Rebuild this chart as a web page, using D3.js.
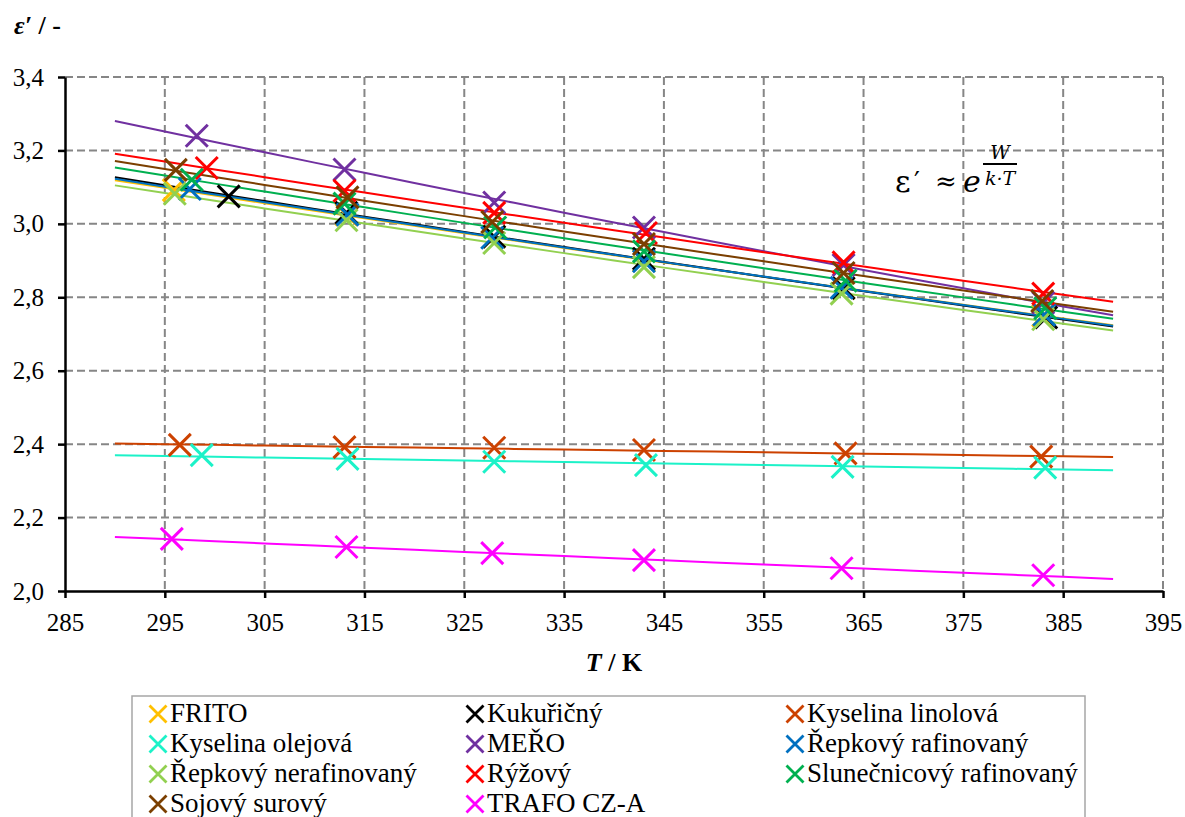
<!DOCTYPE html>
<html>
<head>
<meta charset="utf-8">
<script src="https://cdn.jsdelivr.net/npm/d3@7"></script>
<style>
  html, body { margin: 0; padding: 0; background: #fff; }
  svg { display: block; }
</style>
</head>
<body>
<svg id="chart" width="1185" height="817"></svg>
<script>
// Permittivity of oils vs temperature, with exponential trend lines per sample.
const seriesNames = [
  "FRITO", "Kukuřičný", "Kyselina linolová",
  "Kyselina olejová", "MEŘO", "Řepkový rafinovaný",
  "Řepkový nerafinovaný", "Rýžový", "Slunečnicový rafinovaný",
  "Sojový surový", "TRAFO CZ-A"
];
const seriesColors = [
  "#FFC000", "#000000", "#CC4100",
  "#1CF2C8", "#7030A0", "#0070C0",
  "#92D050", "#FF0000", "#00B050",
  "#7B3F00", "#FF00FF"
];
// Temperatures T / K for each sample
const temps = [
  [295.9, 313.2, 328.0, 343.0, 363.0, 383.0],
  [301.4, 313.2, 328.0, 343.0, 363.0, 383.3],
  [296.5, 313.0, 328.0, 343.0, 363.2, 382.8],
  [298.7, 313.3, 328.0, 343.2, 362.9, 383.2],
  [298.2, 313.0, 328.0, 343.0, 363.0, 383.0],
  [297.5, 313.3, 327.8, 343.0, 362.8, 383.1],
  [296.0, 313.2, 328.0, 343.0, 362.8, 383.0],
  [299.2, 313.0, 328.0, 343.2, 363.0, 383.0],
  [297.7, 313.0, 328.1, 343.0, 363.2, 383.2],
  [296.1, 313.3, 327.8, 343.0, 363.0, 382.9],
  [295.7, 313.2, 327.8, 343.0, 362.8, 383.0]
];
// Relative permittivity ε′ for each sample
const epsValues = [
  [3.092, 3.025, 2.965, 2.900, 2.825, 2.750],
  [3.075, 3.030, 2.965, 2.905, 2.825, 2.745],
  [2.398, 2.392, 2.390, 2.384, 2.375, 2.366],
  [2.370, 2.360, 2.352, 2.343, 2.338, 2.336],
  [3.240, 3.148, 3.058, 2.990, 2.888, 2.785],
  [3.095, 3.025, 2.962, 2.898, 2.826, 2.752],
  [3.082, 3.010, 2.948, 2.882, 2.810, 2.740],
  [3.152, 3.090, 3.030, 2.975, 2.895, 2.810],
  [3.120, 3.055, 2.990, 2.925, 2.845, 2.770],
  [3.147, 3.072, 3.005, 2.945, 2.866, 2.790],
  [2.142, 2.120, 2.103, 2.084, 2.062, 2.043]
];
const xTicks = [285, 295, 305, 315, 325, 335, 345, 355, 365, 375, 385, 395];
const yTicks = [2.0, 2.2, 2.4, 2.6, 2.8, 3.0, 3.2, 3.4];
const trendRange = [290, 390];

const svg = d3.select("#chart");
const plotL = 65, plotR = 1163, plotT = 77, plotB = 591;
const x = d3.scaleLinear().domain([285, 395]).range([plotL, plotR]);
const y = d3.scaleLinear().domain([2.0, 3.4]).range([plotB, plotT]);
const fmt = v => d3.format(".1f")(v).replace(".", ",");
const serif = "Liberation Serif";

// grid
const grid = svg.append("g").attr("stroke", "#868686").attr("stroke-width", 2)
  .attr("stroke-dasharray", "8,4").attr("fill", "none");
grid.selectAll("line.v").data(xTicks.slice(1)).join("line").attr("class", "v")
  .attr("x1", d => x(d)).attr("x2", d => x(d)).attr("y1", plotT).attr("y2", plotB);
grid.selectAll("line.h").data(yTicks.slice(1)).join("line").attr("class", "h")
  .attr("y1", d => y(d)).attr("y2", d => y(d)).attr("x1", plotL).attr("x2", plotR);

// axes
const xAxis = svg.append("g").attr("transform", `translate(0,${plotB})`)
  .call(d3.axisBottom(x).tickValues(xTicks).tickFormat(d => d).tickSize(7).tickSizeOuter(0).tickPadding(15));
const yAxis = svg.append("g").attr("transform", `translate(${plotL},0)`)
  .call(d3.axisLeft(y).tickValues(yTicks).tickFormat(fmt).tickSize(7).tickSizeOuter(0).tickPadding(14));
[xAxis, yAxis].forEach(a => {
  a.attr("font-family", serif).attr("font-size", 25);
  a.selectAll("path.domain").attr("stroke", "#000").attr("stroke-width", 2.5);
  a.selectAll(".tick line").attr("stroke", "#000").attr("stroke-width", 2.5);
  a.selectAll("text").attr("fill", "#000");
});

// trend lines: ε = a·exp(b·T), least squares on ln ε
function fitExp(ts, es) {
  const n = ts.length;
  const ly = es.map(Math.log);
  const mx = d3.mean(ts), my = d3.mean(ly);
  let sxy = 0, sxx = 0;
  for (let i = 0; i < n; i++) { sxy += (ts[i] - mx) * (ly[i] - my); sxx += (ts[i] - mx) ** 2; }
  const b = sxy / sxx, a = my - b * mx;
  return t => Math.exp(a + b * t);
}
const line = d3.line().x(d => x(d[0])).y(d => y(d[1]));
const sampleT = d3.range(trendRange[0], trendRange[1] + 0.001, 5);
seriesNames.forEach((name, i) => {
  const f = fitExp(temps[i], epsValues[i]);
  svg.append("path").datum(sampleT.map(t => [t, f(t)]))
    .attr("d", line).attr("fill", "none").attr("stroke", seriesColors[i]).attr("stroke-width", 2);
});

// markers
function cross(g, cx, cy, r, color, w) {
  g.append("path").attr("d", `M${cx - r},${cy - r}L${cx + r},${cy + r}M${cx - r},${cy + r}L${cx + r},${cy - r}`)
    .attr("stroke", color).attr("stroke-width", w).attr("fill", "none");
}
const marks = svg.append("g");
seriesNames.forEach((name, i) => {
  temps[i].forEach((t, j) => cross(marks, x(t), y(epsValues[i][j]), 11, seriesColors[i], 3));
});

// axis titles
const yt = svg.append("text").attr("x", 14).attr("y", 34).attr("font-family", serif)
  .attr("font-size", 26).attr("font-weight", "bold");
yt.append("tspan").attr("font-style", "italic").text("ε′");
yt.append("tspan").text(" / -");
const xt = svg.append("text").attr("x", (plotL + plotR) / 2).attr("y", 671).attr("text-anchor", "middle")
  .attr("font-family", serif).attr("font-size", 26).attr("font-weight", "bold");
xt.append("tspan").attr("font-style", "italic").text("T");
xt.append("tspan").text(" / K");

// formula ε′ ≈ e^(W / k·T)
const mathFont = "DejaVu Serif";
const fm = svg.append("g").attr("font-family", mathFont).attr("fill", "#000");
fm.append("text").attr("x", 895).attr("y", 192).attr("font-size", 30).text("ε");
fm.append("text").attr("x", 914).attr("y", 190).attr("font-size", 26).text("′");
fm.append("text").attr("x", 935).attr("y", 190).attr("font-size", 26).text("≈");
fm.append("text").attr("x", 963).attr("y", 192).attr("font-size", 30).attr("font-style", "italic").text("e");
fm.append("text").attr("x", 1000).attr("y", 159).attr("text-anchor", "middle")
  .attr("font-size", 19).attr("font-style", "italic").text("W");
fm.append("line").attr("x1", 983).attr("x2", 1017).attr("y1", 164).attr("y2", 164)
  .attr("stroke", "#000").attr("stroke-width", 2);
fm.append("text").attr("x", 1000).attr("y", 185).attr("text-anchor", "middle")
  .attr("font-size", 19).attr("font-style", "italic").text("k·T");

// legend
const lg = svg.append("g");
lg.append("rect").attr("x", 132).attr("y", 696).attr("width", 953).attr("height", 140)
  .attr("fill", "#fff").attr("stroke", "#a6a6a6").attr("stroke-width", 1.5);
const colX = [158, 475, 795];
seriesNames.forEach((name, i) => {
  const c = i % 3, r = Math.floor(i / 3);
  const cx = colX[c], cy = 714 + r * 30;
  cross(lg, cx, cy, 8.5, seriesColors[i], 2.8);
  lg.append("text").attr("x", cx + 12).attr("y", cy + 8).attr("font-family", serif)
    .attr("font-size", 27).attr("fill", "#000").text(name);
});
</script>
</body>
</html>
